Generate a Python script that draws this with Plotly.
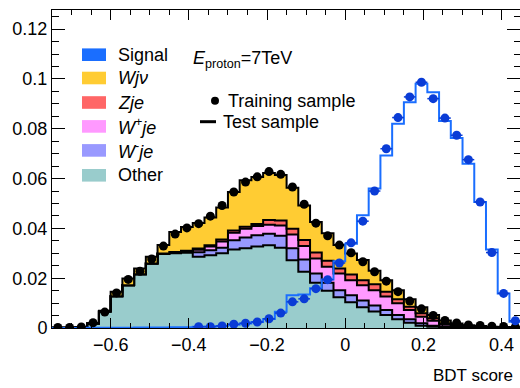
import numpy as np
import plotly.graph_objects as go

# ---------------- data ----------------
bin_lo = -0.75
bin_width = 0.03
n_bins = 40

other = [0.0001, 0.0001, 0.0002, 0.0018, 0.0066, 0.0127, 0.0172, 0.0216, 0.0259, 0.0297,
         0.0300, 0.0302, 0.0286, 0.0292, 0.0300, 0.0315, 0.0320, 0.0327, 0.0332, 0.0322,
         0.0272, 0.0226, 0.0182, 0.0150, 0.0123, 0.0103, 0.0083, 0.0066, 0.0052, 0.0035,
         0.0021, 0.0009, 0.0005, 0.0003, 0.0002, 0.0001, 0.0001, 0.0001, 0.0000, 0.0000]
w_minus = [0, 0, 0, 0, 0, 0, 0, 0, 0, 0.0002,
           0.0003, 0.0005, 0.0018, 0.0020, 0.0022, 0.0037, 0.0043, 0.0045, 0.0046, 0.0048,
           0.0048, 0.0049, 0.0037, 0.0032, 0.0029, 0.0029, 0.0027, 0.0024, 0.0020, 0.0017,
           0.0014, 0.0010, 0.0004, 0.0003, 0.0002, 0.0001, 0.0001, 0.0001, 0.0001, 0]
w_plus = [0, 0, 0, 0, 0, 0, 0, 0, 0, 0,
          0.0001, 0.0002, 0.0010, 0.0015, 0.0025, 0.0030, 0.0036, 0.0038, 0.0037, 0.0042,
          0.0055, 0.0054, 0.0060, 0.0064, 0.0067, 0.0060, 0.0062, 0.0062, 0.0054, 0.0047,
          0.0037, 0.0026, 0.0020, 0.0008, 0.0005, 0.0003, 0.0002, 0.0001, 0.0001, 0.0001]
z_je = [0, 0, 0, 0, 0, 0, 0, 0, 0, 0,
        0.0001, 0.0001, 0.0005, 0.0005, 0.0008, 0.0010, 0.0008, 0.0008, 0.0019, 0.0020,
        0.0024, 0.0024, 0.0024, 0.0024, 0.0020, 0.0023, 0.0020, 0.0024, 0.0020, 0.0016,
        0.0013, 0.0014, 0.0010, 0.0005, 0.0003, 0.0002, 0.0001, 0.0001, 0.0001, 0]
w_jnu = [0, 0, 0, 0.0001, 0.0003, 0.0019, 0.0027, 0.0023, 0.0027, 0.0034,
         0.0081, 0.0096, 0.0103, 0.0112, 0.0129, 0.0154, 0.0186, 0.0188, 0.0188, 0.0182,
         0.0164, 0.0139, 0.0123, 0.0110, 0.0094, 0.0084, 0.0081, 0.0054, 0.0046, 0.0037,
         0.0030, 0.0024, 0.0013, 0.0011, 0.0006, 0.0004, 0.0003, 0.0001, 0.0001, 0.0002]

train_bkg = [0.0002, 0.0002, 0.0004, 0.0021, 0.0064, 0.0141, 0.0195, 0.0228, 0.0277, 0.0329,
             0.0377, 0.0402, 0.0419, 0.0449, 0.0492, 0.0546, 0.0586, 0.0607, 0.0628, 0.0617,
             0.0566, 0.0497, 0.0421, 0.0370, 0.0333, 0.0302, 0.0266, 0.0226, 0.0188, 0.0146,
             0.0108, 0.0077, 0.0050, 0.0030, 0.0020, 0.0012, 0.0010, 0.0007, 0.0006, 0.0004]

signal_test = [0, 0, 0, 0.0001, 0.0001, 0.0001, 0.0001, 0.0002, 0.0002, 0.0002,
               0.0003, 0.0003, 0.0005, 0.0006, 0.0008, 0.0013, 0.0018, 0.0024, 0.0036, 0.0065,
               0.0132, 0.0135, 0.0160, 0.0195, 0.0268, 0.0338, 0.0453, 0.0560, 0.0693, 0.0820,
               0.0907, 0.0981, 0.0947, 0.0831, 0.0763, 0.0660, 0.0506, 0.0315, 0.0139, 0.0025]
signal_train = [None, None, None, None, None, None, None, None, None, None,
                None, None, 0.0005, 0.0005, 0.0008, 0.0015, 0.0019, 0.0024, 0.0037, 0.0060,
                0.0105, 0.0117, 0.0158, 0.0194, 0.0261, 0.0342, 0.0429, 0.0550, 0.0720, 0.0845,
                0.0928, 0.0987, 0.0921, 0.0843, 0.0774, 0.0676, 0.0506, 0.0303, 0.0139, 0.0029]

legend_labels = ["Signal", "<i>Wjν</i>", "<i>Zje</i>", "<i>W</i><sup>+</sup><i>je</i>",
                 "<i>W</i><sup>-</sup><i>je</i>", "Other"]
energy_label = "<i>E</i><sub>proton</sub>=7TeV"
x_title = "BDT score"

# ---------------- styling ----------------
C_SIG = "#1a6eff"
C_SIG_PT = "#0a3cd6"
C_WJNU = "#ffcc33"
C_ZJE = "#ff6666"
C_WP = "#ff99ff"
C_WM = "#9999ff"
C_OTHER = "#99cccc"
FONT = "Liberation Sans, Arial, Helvetica, sans-serif"

W, H = 520, 388
ML, MR, MT, MB = 52, 0, 10, 60
PW, PH = W - ML - MR, H - MT - MB

edges = bin_lo + bin_width * np.arange(n_bins + 1)
centers = 0.5 * (edges[:-1] + edges[1:])


def step_y(vals):
    v = [0 if a is None else a for a in vals]
    return v + [v[-1]]


fig = go.Figure()

layers = [(other, C_OTHER), (w_minus, C_WM), (w_plus, C_WP), (z_je, C_ZJE), (w_jnu, C_WJNU)]
for vals, col in layers:
    fig.add_trace(go.Scatter(
        x=edges, y=step_y(vals), mode="lines", stackgroup="bkg",
        line=dict(shape="hv", color="black", width=2),
        fillcolor=col, showlegend=False, hoverinfo="skip"))

fig.add_trace(go.Scatter(
    x=edges, y=step_y(signal_test), mode="lines",
    line=dict(shape="hv", color=C_SIG, width=2), showlegend=False))

fig.add_trace(go.Scatter(
    x=centers, y=train_bkg, mode="markers",
    marker=dict(color="black", size=9), showlegend=False))

fig.add_trace(go.Scatter(
    x=centers, y=signal_train, mode="markers",
    marker=dict(color=C_SIG_PT, size=9),
    error_x=dict(type="constant", value=bin_width / 2, color=C_SIG_PT, thickness=1.5, width=0),
    error_y=dict(type="constant", value=0.0015, color=C_SIG_PT, thickness=1.5, width=0),
    showlegend=False))


def px(x):
    return (x - ML) / PW


def py(y):
    return (MT + PH - y) / PH


shapes = []
annotations = []

# legend boxes
leg_cols = [C_SIG, C_WJNU, C_ZJE, C_WP, C_WM, C_OTHER]
leg_y = [54.7, 78.0, 102.5, 126.4, 150.4, 175.3]
for lab, col, yc in zip(legend_labels, leg_cols, leg_y):
    shapes.append(dict(type="rect", xref="paper", yref="paper",
                       x0=px(82), x1=px(106), y0=py(yc + 6.3), y1=py(yc - 6.3),
                       fillcolor=col, line=dict(width=0)))
    annotations.append(dict(xref="paper", yref="paper", x=px(116), y=py(yc),
                            xanchor="left", yanchor="middle", text=lab, showarrow=False,
                            font=dict(family=FONT, size=18, color="black")))

annotations.append(dict(xref="paper", yref="paper", x=px(191), y=py(60),
                        xanchor="left", yanchor="middle", text=energy_label, showarrow=False,
                        font=dict(family=FONT, size=18, color="black")))

# training / test legend
shapes.append(dict(type="circle", xref="paper", yref="paper",
                   x0=px(211), x1=px(219), y0=py(104.7), y1=py(96.7),
                   fillcolor="black", line=dict(width=0)))
annotations.append(dict(xref="paper", yref="paper", x=px(226), y=py(100.7),
                        xanchor="left", yanchor="middle", text="Training sample", showarrow=False,
                        font=dict(family=FONT, size=18, color="black")))
shapes.append(dict(type="line", xref="paper", yref="paper",
                   x0=px(200), x1=px(216), y0=py(121.7), y1=py(121.7),
                   line=dict(color="black", width=3)))
annotations.append(dict(xref="paper", yref="paper", x=px(221), y=py(121.7),
                        xanchor="left", yanchor="middle", text="Test sample", showarrow=False,
                        font=dict(family=FONT, size=18, color="black")))

annotations.append(dict(xref="paper", yref="paper", x=1, y=py(375),
                        xanchor="right", yanchor="middle", xshift=-5, text=x_title,
                        showarrow=False, font=dict(family=FONT, size=17, color="black")))

fig.update_layout(
    width=W, height=H,
    margin=dict(l=ML, r=MR, t=MT, b=MB, pad=0, autoexpand=False),
    paper_bgcolor="white", plot_bgcolor="white",
    font=dict(family=FONT, size=18, color="black"),
    showlegend=False,
    shapes=shapes, annotations=annotations,
    xaxis=dict(range=[bin_lo, 0.447], tick0=0, dtick=0.2, ticks="inside", ticklen=10,
               tickwidth=1, tickcolor="black", showline=True, linecolor="black", linewidth=1,
               mirror="allticks", showgrid=False, zeroline=False, automargin=False,
               minor=dict(ticks="inside", ticklen=5, dtick=0.05, tick0=0, tickcolor="black",
                          tickwidth=1, showgrid=False),
               tickfont=dict(family=FONT, size=18)),
    yaxis=dict(range=[0, 0.1277], tick0=0, dtick=0.02, ticks="inside", ticklen=13,
               tickwidth=1, tickcolor="black", showline=True, linecolor="black", linewidth=1,
               mirror="allticks", showgrid=False, zeroline=False, automargin=False,
               minor=dict(ticks="inside", ticklen=6.5, dtick=0.005, tick0=0, tickcolor="black",
                          tickwidth=1, showgrid=False),
               tickfont=dict(family=FONT, size=18)),
)

fig.write_html("out.html", config={"displayModeBar": False, "staticPlot": True},
               post_script="document.body.style.margin='0';document.body.style.overflow='hidden';")
